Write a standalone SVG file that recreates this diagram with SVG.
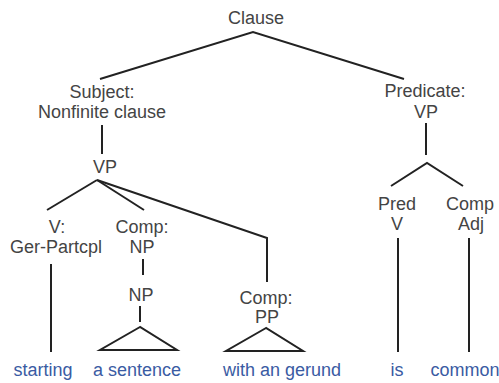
<svg xmlns="http://www.w3.org/2000/svg" width="499" height="383" viewBox="0 0 499 383">
<style>
.lbl{font-family:"Liberation Sans",Arial,sans-serif;font-size:18px;fill:#444;text-anchor:middle}
.leaf{font-family:"Liberation Sans",Arial,sans-serif;font-size:18px;fill:#3a5ba3;text-anchor:middle}
.edge{fill:none;stroke:#222;stroke-width:2;stroke-linejoin:miter}
</style>
<rect width="499" height="383" fill="#fff"/>
<g id="connectors">
<polyline class="edge" points="100,79 253,32 404,79"/>
<line class="edge" x1="102" y1="125" x2="102" y2="154"/>
<line class="edge" x1="47" y1="210" x2="97" y2="180"/>
<line class="edge" x1="97" y1="180" x2="144" y2="210"/>
<polyline class="edge" points="97,180 267,238 267,282"/>
<line class="edge" x1="51" y1="264" x2="51" y2="352"/>
<line class="edge" x1="143" y1="259" x2="143" y2="275"/>
<line class="edge" x1="140" y1="306" x2="140" y2="322"/>
<polygon class="edge" points="140,327 100,350 177,350"/>
<polygon class="edge" points="266,328 226,351 303,351"/>
<line class="edge" x1="426" y1="123" x2="426" y2="155"/>
<polyline class="edge" points="391,186 427,163 463,186"/>
<line class="edge" x1="398" y1="238" x2="398" y2="352"/>
<line class="edge" x1="469" y1="238" x2="469" y2="352"/>
</g>
<g id="clause"><text class="lbl" x="256" y="24">Clause</text></g>
<g id="subject"><text class="lbl" x="102" y="98">Subject:</text><text class="lbl" x="102" y="118">Nonfinite clause</text></g>
<g id="vp"><text class="lbl" x="105" y="173">VP</text></g>
<g id="v"><text class="lbl" x="57" y="233">V:</text><text class="lbl" x="56" y="253">Ger-Partcpl</text></g>
<g id="comp-np"><text class="lbl" x="142" y="233">Comp:</text><text class="lbl" x="142" y="253">NP</text></g>
<g id="np"><text class="lbl" x="141" y="301">NP</text></g>
<g id="comp-pp"><text class="lbl" x="266" y="304">Comp:</text><text class="lbl" x="267" y="323">PP</text></g>
<g id="predicate"><text class="lbl" x="425" y="97">Predicate:</text><text class="lbl" x="426" y="118">VP</text></g>
<g id="pred-v"><text class="lbl" x="397" y="210">Pred</text><text class="lbl" x="397" y="230">V</text></g>
<g id="comp-adj"><text class="lbl" x="470" y="210">Comp</text><text class="lbl" x="471" y="230">Adj</text></g>
<g id="leaf-starting"><text class="leaf" x="43" y="376">starting</text></g>
<g id="leaf-sentence"><text class="leaf" x="137" y="376">a sentence</text></g>
<g id="leaf-gerund"><text class="leaf" x="282" y="376">with an gerund</text></g>
<g id="leaf-is"><text class="leaf" x="397" y="376">is</text></g>
<g id="leaf-common"><text class="leaf" x="465" y="376">common</text></g>
</svg>
